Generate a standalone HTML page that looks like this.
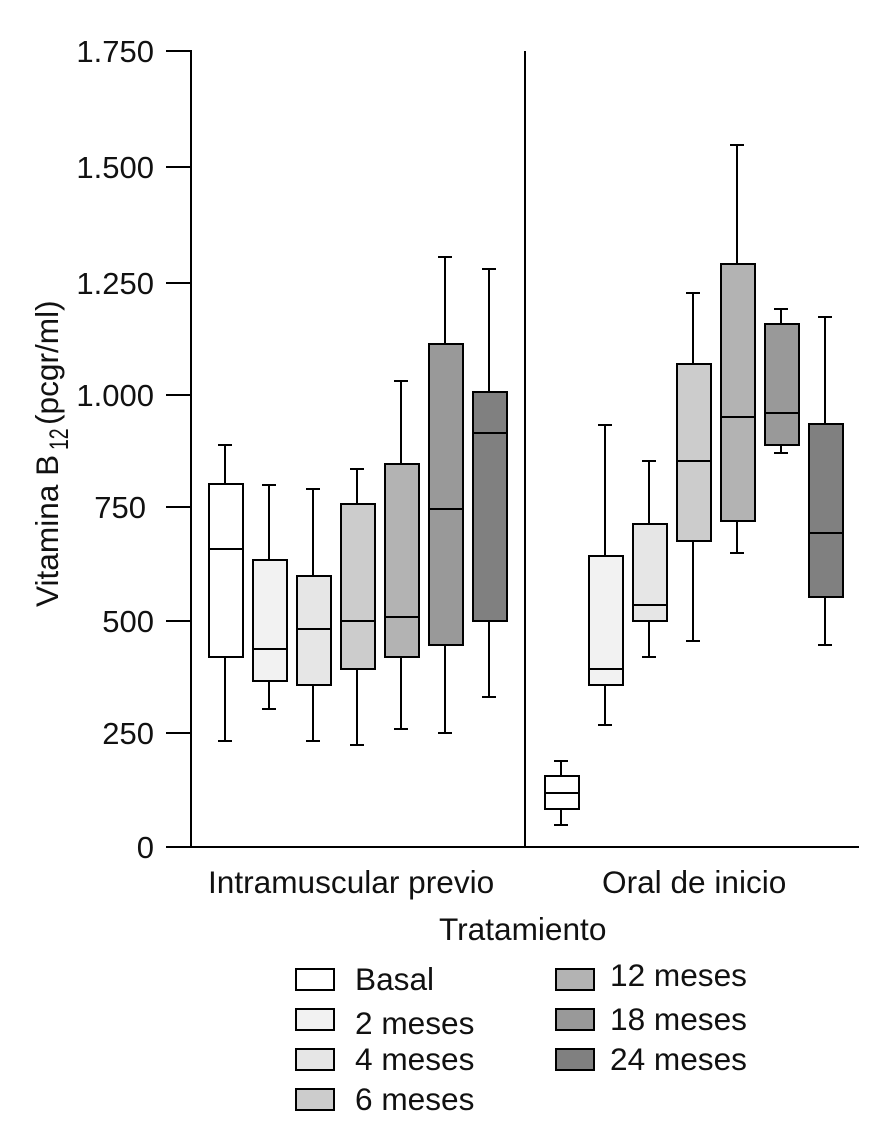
<!DOCTYPE html>
<html lang="es">
<head>
<meta charset="utf-8">
<title>Vitamina B12 por tratamiento</title>
<style>
  html, body { margin: 0; padding: 0; background: #fff; }
  svg { display: block; }
  text { font-family: "Liberation Sans", Arial, sans-serif; font-size: 31.6px; fill: #111; }
  .tick-text { font-size: 31px; }
</style>
</head>
<body>
<svg id="chart" xmlns="http://www.w3.org/2000/svg" width="883" height="1128" viewBox="0 0 883 1128">
  <rect x="0" y="0" width="883" height="1128" fill="#fff"/>
  <g id="axes"></g>
  <g id="boxes"></g>

  <text x="208" y="893">Intramuscular previo</text>
  <text x="602" y="893">Oral de inicio</text>
  <text x="439" y="940">Tratamiento</text>

  <g transform="translate(58 607) rotate(-90)">
    <text x="0" y="0">Vitamina B</text>
    <text transform="translate(157 10) scale(0.72 1)" style="font-size:27px">12</text>
    <text x="182" y="0">(pcgr/ml)</text>
  </g>

  <g stroke-width="2">
    <g>
      <rect x="296" y="969" width="38" height="21" fill="#ffffff" stroke="#000"/>
      <text x="355" y="990">Basal</text>
    </g>
    <g>
      <rect x="296" y="1009" width="38" height="21" fill="#f2f2f2" stroke="#000"/>
      <text x="355" y="1034">2 meses</text>
    </g>
    <g>
      <rect x="296" y="1049" width="38" height="21" fill="#e6e6e6" stroke="#000"/>
      <text x="355" y="1070">4 meses</text>
    </g>
    <g>
      <rect x="296" y="1089" width="38" height="21" fill="#cccccc" stroke="#000"/>
      <text x="355" y="1110">6 meses</text>
    </g>
    <g>
      <rect x="556" y="969" width="38" height="21" fill="#b3b3b3" stroke="#000"/>
      <text x="610" y="986">12 meses</text>
    </g>
    <g>
      <rect x="556" y="1009" width="38" height="21" fill="#999999" stroke="#000"/>
      <text x="610" y="1030">18 meses</text>
    </g>
    <g>
      <rect x="556" y="1049" width="38" height="21" fill="#808080" stroke="#000"/>
      <text x="610" y="1070">24 meses</text>
    </g>
  </g>
</svg>

<script>
// Chart data
const tickValues = [0, 250, 500, 750, 1000, 1250, 1500, 1750];
const tickLabels = ["0", "250", "500", "750", "1.000", "1.250", "1.500", "1.750"];
const seriesNames = ["basal", "2-meses", "4-meses", "6-meses", "12-meses", "18-meses", "24-meses"];
const seriesFills = ["#ffffff", "#f2f2f2", "#e6e6e6", "#cccccc", "#b3b3b3", "#999999", "#808080"];
const groupNames = ["intramuscular", "oral"];

const imHigh   = [888, 799, 790, 835, 1031, 1306, 1280];
const imQ3     = [801, 634, 599, 757, 846, 1114, 1007];
const imMedian = [658, 437, 482, 500, 509, 746, 915];
const imQ1     = [420, 366, 357, 393, 420, 446, 500];
const imLow    = [232, 304, 232, 224, 259, 250, 330];

const oralHigh   = [189, 933, 853, 1228, 1547, 1192, 1174];
const oralQ3     = [156, 643, 713, 1069, 1291, 1158, 935];
const oralMedian = [118, 393, 535, 853, 951, 960, 693];
const oralQ1     = [83, 357, 500, 675, 719, 888, 553];
const oralLow    = [48, 268, 420, 455, 649, 871, 446];

const groupHigh = [imHigh, oralHigh];
const groupQ3 = [imQ3, oralQ3];
const groupMedian = [imMedian, oralMedian];
const groupQ1 = [imQ1, oralQ1];
const groupLow = [imLow, oralLow];

const NS = "http://www.w3.org/2000/svg";

// The printed axis is slightly uneven, so the scale follows its tick marks.
function yScale(v) {
  const domain = [0, 250, 500, 750, 1000, 1250, 1500, 1750];
  const range = [847, 733, 621, 507, 395, 283, 167, 51];
  let i = 0;
  while (i < domain.length - 2 && v > domain[i + 1]) i++;
  const t = (v - domain[i]) / (domain[i + 1] - domain[i]);
  return Math.round(range[i] + t * (range[i + 1] - range[i]));
}

function xScale(group, series) {
  return (group === 0 ? 209 : 545) + 44 * series;
}

function makeLine(x1, y1, x2, y2) {
  const el = document.createElementNS(NS, "line");
  el.setAttribute("x1", x1);
  el.setAttribute("y1", y1);
  el.setAttribute("x2", x2);
  el.setAttribute("y2", y2);
  el.setAttribute("stroke", "#000");
  el.setAttribute("stroke-width", "2");
  return el;
}

const axes = document.getElementById("axes");
const boxes = document.getElementById("boxes");

const yAxis = makeLine(191, 50, 191, 848);


axes.appendChild(yAxis);

const xAxis = makeLine(166, 847, 859, 847);


axes.appendChild(xAxis);

const divider = makeLine(525, 51, 525, 847);


axes.appendChild(divider);

tickValues.forEach(function (v, i) {
  const y = yScale(v);
  const tick = makeLine(166, y, 191, y);
  
  
  axes.appendChild(tick);

  const label = document.createElementNS(NS, "text");
  label.setAttribute("x", v === 750 ? 146 : 154);
  label.setAttribute("y", y + 11);
  label.setAttribute("text-anchor", "end");
  label.setAttribute("class", "tick-text");
  label.textContent = tickLabels[i];
  
  
  axes.appendChild(label);
});

groupNames.forEach(function (groupName, g) {
  seriesNames.forEach(function (seriesName, s) {
    const left = xScale(g, s);
    const whiskerX = left + 16;
    const boxWidth = 34;
    const yHigh = yScale(groupHigh[g][s]);
    const yQ3 = yScale(groupQ3[g][s]);
    const yMedian = yScale(groupMedian[g][s]);
    const yQ1 = yScale(groupQ1[g][s]);
    const yLow = yScale(groupLow[g][s]);

    const box = document.createElementNS(NS, "g");
    
    

    const upper = makeLine(whiskerX, yHigh, whiskerX, yQ3);
    
    
    box.appendChild(upper);

    const upperCap = makeLine(whiskerX - 7, yHigh, whiskerX + 7, yHigh);
    
    
    box.appendChild(upperCap);

    const lower = makeLine(whiskerX, yQ1, whiskerX, yLow);
    
    
    box.appendChild(lower);

    const lowerCap = makeLine(whiskerX - 7, yLow, whiskerX + 7, yLow);
    
    
    box.appendChild(lowerCap);

    const rect = document.createElementNS(NS, "rect");
    rect.setAttribute("x", left);
    rect.setAttribute("y", yQ3);
    rect.setAttribute("width", boxWidth);
    rect.setAttribute("height", yQ1 - yQ3);
    rect.setAttribute("fill", seriesFills[s]);
    rect.setAttribute("stroke", "#000");
    rect.setAttribute("stroke-width", "2");
    
    
    box.appendChild(rect);

    const median = makeLine(left, yMedian, left + boxWidth, yMedian);
    
    
    box.appendChild(median);

    boxes.appendChild(box);
  });
});
</script>
</body>
</html>
